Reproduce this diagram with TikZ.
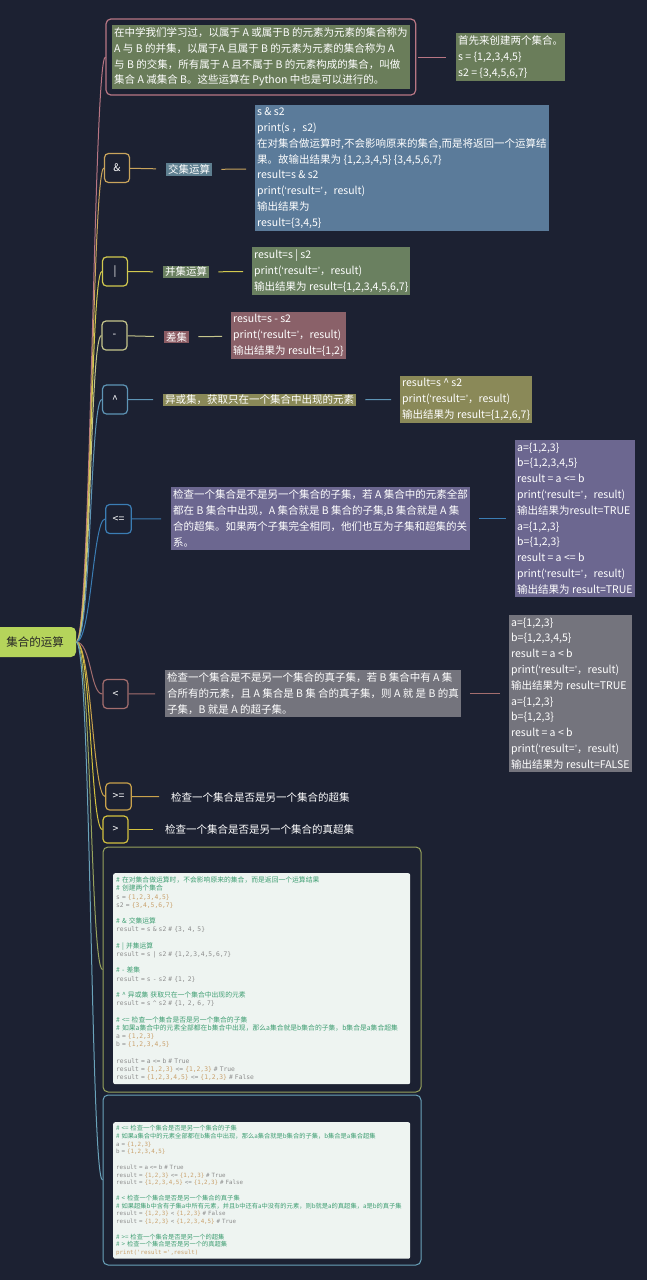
\documentclass[tikz,border=0pt]{standalone}
\usepackage{fontspec}
\setmainfont{Noto Sans CJK SC}
\newfontfamily\codefont{DejaVu Sans Mono}
\newfontfamily\cmtfont{Noto Sans CJK SC}[Scale=1.08]
\newfontfamily\quotefont{Liberation Sans}
\usetikzlibrary{fit}

\definecolor{bgnavy}{HTML}{1C2132}
\definecolor{rootlime}{HTML}{B5D45B}
\definecolor{intropink}{HTML}{B87684}
\definecolor{sage}{HTML}{6A7D5A}
\definecolor{ampgold}{HTML}{C9A45C}
\definecolor{amptagfill}{HTML}{5E7F90}
\definecolor{ampfill}{HTML}{5B7B9A}
\definecolor{baryellow}{HTML}{D2C94F}
\definecolor{barfill}{HTML}{6A8060}
\definecolor{minuspale}{HTML}{C5C68C}
\definecolor{minustag}{HTML}{8B5B63}
\definecolor{minusfill}{HTML}{8A6169}
\definecolor{caretblue}{HTML}{5E95B6}
\definecolor{caretfill}{HTML}{8A8958}
\definecolor{leblue}{HTML}{3B7DB4}
\definecolor{lefill}{HTML}{6C6790}
\definecolor{ltrose}{HTML}{A46E6E}
\definecolor{ltfill}{HTML}{74747D}
\definecolor{gegold}{HTML}{C9A24C}
\definecolor{gtyellow}{HTML}{D4C23F}
\definecolor{shotolive}{HTML}{97A35D}
\definecolor{shotteal}{HTML}{6AA3BA}
\definecolor{panelwhite}{HTML}{EEF4F1}
\definecolor{codegrey}{HTML}{8C8C8C}
\definecolor{cmtgreen}{HTML}{3E9E72}
\definecolor{numtan}{HTML}{C9A06A}

\newcommand{\cmtline}[1]{\textcolor{cmtgreen}{\cmtfont #1}}
\newcommand{\setlit}[1]{\textcolor{numtan}{#1}}
\newcommand{\oq}{{\quotefont ‘}}
\newcommand{\cq}{{\quotefont ’}}

\begin{document}
\begin{tikzpicture}[x=1pt, y=-1pt,
    opnode/.style={draw, line width=1.2pt, rounded corners=4pt, fill=bgnavy, text=white,
      minimum width=25pt, minimum height=29pt, inner xsep=7pt, font=\fontsize{10.5}{12}\selectfont},
    tagbox/.style={text=white, inner xsep=2pt, inner ysep=1.5pt, anchor=west,
      font=\fontsize{10.5}{12}\selectfont},
    textbox/.style={text=white, align=left, inner xsep=2pt, inner ysep=2.5pt, anchor=west,
      font=\fontsize{10.5}{15.8}\selectfont},
    branch/.style={line width=1pt},
    link/.style={line width=1pt, shorten >=10pt},
    linktwo/.style={line width=1pt, shorten <=9pt, shorten >=9pt},
    shotframe/.style={draw, line width=1pt, rounded corners=5pt, minimum width=318pt},
    codepanel/.style={fill=panelwhite, rounded corners=2pt, text width=291pt, align=left,
      inner sep=3pt, anchor=north west, text=codegrey}
  ]
  \useasboundingbox[fill=bgnavy] (0,0) rectangle (647,1280);

  % root
  \node[fill=rootlime, rounded corners=5pt, minimum width=82pt, minimum height=30pt,
    text=black!85, font=\fontsize{11.5}{13}\selectfont] (root) at (35,642) {集合的运算};

  % intro
  \node[textbox, fill=sage] (intro) at (112,57) {在中学我们学习过，以属于 A 或属于B 的元素为元素的集合称为\\
    A 与 B 的并集，以属于A 且属于 B 的元素为元素的集合称为 A\\
    与 B 的交集，所有属于 A 且不属于 B 的元素构成的集合，叫做\\
    集合 A 减集合 B。这些运算在 Python 中也是可以进行的。};
  \node[draw=intropink, line width=1.2pt, rounded corners=5pt, fit=(intro), inner sep=6pt] (introframe) {};
  \node[textbox, fill=sage] (create) at (456,57) {首先来创建两个集合。\\ s = \{1,2,3,4,5\}\\ s2 = \{3,4,5,6,7\}};

  % operators
  \begin{scope}[every node/.style={opnode}]
    \node[draw=ampgold] (amp) at (117,168) {\&};
    \node[draw=baryellow] (bar) at (115,271.5) {|};
    \node[draw=minuspale] (minus) at (114.5,335.5) {-};
    \node[draw=caretblue] (caret) at (115,399.5) {\textasciicircum};
    \node[draw=leblue] (le) at (118.5,519) {<=};
    \node[draw=ltrose] (lt) at (115.5,694) {<};
    \node[draw=gegold, minimum height=27pt] (ge) at (118.5,796.5) {>=};
    \node[draw=gtyellow, minimum height=27pt] (gt) at (115.5,829.5) {>};
  \end{scope}

  % labels
  \node[tagbox, fill=amptagfill] (amptag) at (166,169.5) {交集运算};
  \node[tagbox, fill=barfill] (bartag) at (163,272) {并集运算};
  \node[tagbox, fill=minustag] (minustag) at (164,337) {差集};
  \node[tagbox, fill=caretfill] (carettag) at (163,400) {异或集，获取只在一个集合中出现的元素};
  \node[textbox, fill=lefill] (letag) at (171,518.5) {检查一个集合是不是另一个集合的子集，若 A 集合中的元素全部\\
    都在 B 集合中出现，A 集合就是 B 集合的子集,B 集合就是 A 集\\
    合的超集。如果两个子集完全相同，他们也互为子集和超集的关\\
    系。};
  \node[textbox, fill=ltfill] (lttag) at (165,693.5) {检查一个集合是不是另一个集合的真子集，若 B 集合中有 A 集\\
    合所有的元素，且 A 集合是 B 集 合的真子集，则 A 就 是 B 的真\\
    子集，B 就是 A 的超子集。};
  \node[tagbox] (getag) at (169,797) {检查一个集合是否是另一个集合的超集};
  \node[tagbox] (gttag) at (163,829.5) {检查一个集合是否是另一个集合的真超集};

  % code boxes
  \node[textbox, fill=ampfill] (ampcode) at (255,168) {s \& s2\\
    print(s ，s2)\\
    在对集合做运算时,不会影响原来的集合,而是将返回一个运算结\\
    果。故输出结果为 \{1,2,3,4,5\} \{3,4,5,6,7\}\\
    result=s \& s2\\
    print(\oq result=\cq，result)\\
    输出结果为\\
    result=\{3,4,5\}};
  \node[textbox, fill=barfill] (barcode) at (252,271) {result=s | s2\\
    print(\oq result=\cq，result)\\
    输出结果为 result=\{1,2,3,4,5,6,7\}};
  \node[textbox, fill=minusfill] (minuscode) at (231,335.5) {result=s - s2\\
    print(\oq result=\cq，result)\\
    输出结果为 result=\{1,2\}};
  \node[textbox, fill=caretfill] (caretcode) at (400,399.5) {result=s \textasciicircum{} s2\\
    print(\oq result=\cq，result)\\
    输出结果为 result=\{1,2,6,7\}};
  \node[textbox, fill=lefill] (lecode) at (515,518.5) {a=\{1,2,3\}\\
    b=\{1,2,3,4,5\}\\
    result = a <= b\\
    print(\oq result=\cq，result)\\
    输出结果为result=TRUE\\
    a=\{1,2,3\}\\
    b=\{1,2,3\}\\
    result = a <= b\\
    print(\oq result=\cq，result)\\
    输出结果为 result=TRUE};
  \node[textbox, fill=ltfill] (ltcode) at (509,693.5) {a=\{1,2,3\}\\
    b=\{1,2,3,4,5\}\\
    result = a < b\\
    print(\oq result=\cq，result)\\
    输出结果为 result=TRUE\\
    a=\{1,2,3\}\\
    b=\{1,2,3\}\\
    result = a < b\\
    print(\oq result=\cq，result)\\
    输出结果为 result=FALSE};

  % screenshots of the code
  \node[shotframe, draw=shotolive, minimum height=245pt] (shotone) at (262,969.5) {};
  \node[codepanel, minimum height=211pt, font=\codefont\fontsize{6.3}{8.2}\selectfont] (codeone) at (113,873) {%
    \cmtline{\# 在对集合做运算时，不会影响原来的集合，而是返回一个运算结果}\\
    \cmtline{\# 创建两个集合}\\
    s = \setlit{\{1,2,3,4,5\}}\\
    s2 = \setlit{\{3,4,5,6,7\}}\\[8.2pt]
    \cmtline{\# \& 交集运算}\\
    result = s \& s2 \# \{3, 4, 5\}\\[8.2pt]
    \cmtline{\# | 并集运算}\\
    result = s | s2 \# \{1,2,3,4,5,6,7\}\\[8.2pt]
    \cmtline{\# - 差集}\\
    result = s - s2 \# \{1, 2\}\\[8.2pt]
    \cmtline{\# \textasciicircum{} 异或集 获取只在一个集合中出现的元素}\\
    result = s \textasciicircum{} s2 \# \{1, 2, 6, 7\}\\[8.2pt]
    \cmtline{\# <= 检查一个集合是否是另一个集合的子集}\\
    \cmtline{\# 如果a集合中的元素全部都在b集合中出现，那么a集合就是b集合的子集，b集合是a集合超集}\\
    a = \setlit{\{1,2,3\}}\\
    b = \setlit{\{1,2,3,4,5\}}\\[8.2pt]
    result = a <= b \# True\\
    result = \setlit{\{1,2,3\}} <= \setlit{\{1,2,3\}} \# True\\
    result = \setlit{\{1,2,3,4,5\}} <= \setlit{\{1,2,3\}} \# False};

  \node[shotframe, draw=shotteal, minimum height=170pt] (shottwo) at (262,1180) {};
  \node[codepanel, minimum height=136pt, font=\codefont\fontsize{5.8}{7.75}\selectfont] (codetwo) at (113,1122) {%
    \cmtline{\# <= 检查一个集合是否是另一个集合的子集}\\
    \cmtline{\# 如果a集合中的元素全部都在b集合中出现，那么a集合就是b集合的子集，b集合是a集合超集}\\
    a = \setlit{\{1,2,3\}}\\
    b = \setlit{\{1,2,3,4,5\}}\\[7.75pt]
    result = a <= b \# True\\
    result = \setlit{\{1,2,3\}} <= \setlit{\{1,2,3\}} \# True\\
    result = \setlit{\{1,2,3,4,5\}} <= \setlit{\{1,2,3\}} \# False\\[7.75pt]
    \cmtline{\# < 检查一个集合是否是另一个集合的真子集}\\
    \cmtline{\# 如果超集b中含有子集a中所有元素，并且b中还有a中没有的元素，则b就是a的真超集，a是b的真子集}\\
    result = \setlit{\{1,2,3\}} < \setlit{\{1,2,3\}} \# False\\
    result = \setlit{\{1,2,3\}} < \setlit{\{1,2,3,4,5\}} \# True\\[7.75pt]
    \cmtline{\# >= 检查一个集合是否是另一个的超集}\\
    \cmtline{\# > 检查一个集合是否是另一个的真超集}\\
    \setlit{print('result =',result)}};

  % branches from the root
  \draw[branch, intropink] (root.east) .. controls +(15,0) and +(-12,0) .. (introframe.west);
  \draw[branch, ampgold] (root.east) .. controls +(15,0) and +(-12,0) .. (amp.west);
  \draw[branch, baryellow] (root.east) .. controls +(15,0) and +(-12,0) .. (bar.west);
  \draw[branch, minuspale] (root.east) .. controls +(15,0) and +(-12,0) .. (minus.west);
  \draw[branch, caretblue] (root.east) .. controls +(15,0) and +(-12,0) .. (caret.west);
  \draw[branch, leblue] (root.east) .. controls +(15,0) and +(-12,0) .. (le.west);
  \draw[branch, ltrose] (root.east) .. controls +(15,0) and +(-12,0) .. (lt.west);
  \draw[branch, gegold] (root.east) .. controls +(15,0) and +(-12,0) .. (ge.west);
  \draw[branch, gtyellow] (root.east) .. controls +(15,0) and +(-12,0) .. (gt.west);
  \draw[branch, shotolive] (root.east) .. controls +(15,0) and +(-12,0) .. (shotone.west);
  \draw[branch, shotteal] (root.east) .. controls +(15,0) and +(-12,0) .. (shottwo.west);

  % links to labels and code
  \path[intropink, line width=1pt, shorten <=2pt, shorten >=10pt] (introframe) edge (create);
  \path[ampgold, link] (amp) edge (amptag);
  \path[ampgold, linktwo] (amptag) edge (ampcode);
  \path[baryellow, link] (bar) edge (bartag);
  \path[baryellow, linktwo] (bartag) edge (barcode);
  \path[minuspale, link] (minus) edge (minustag);
  \path[minuspale, linktwo] (minustag) edge (minuscode);
  \path[caretblue, link] (caret) edge (carettag);
  \path[caretblue, linktwo] (carettag) edge (caretcode);
  \path[leblue, link] (le) edge (letag);
  \path[leblue, linktwo] (letag) edge (lecode);
  \path[ltrose, link] (lt) edge (lttag);
  \path[ltrose, linktwo] (lttag) edge (ltcode);
  \path[gegold, link] (ge) edge (getag);
  \path[gtyellow, link] (gt) edge (gttag);
\end{tikzpicture}
\end{document}
